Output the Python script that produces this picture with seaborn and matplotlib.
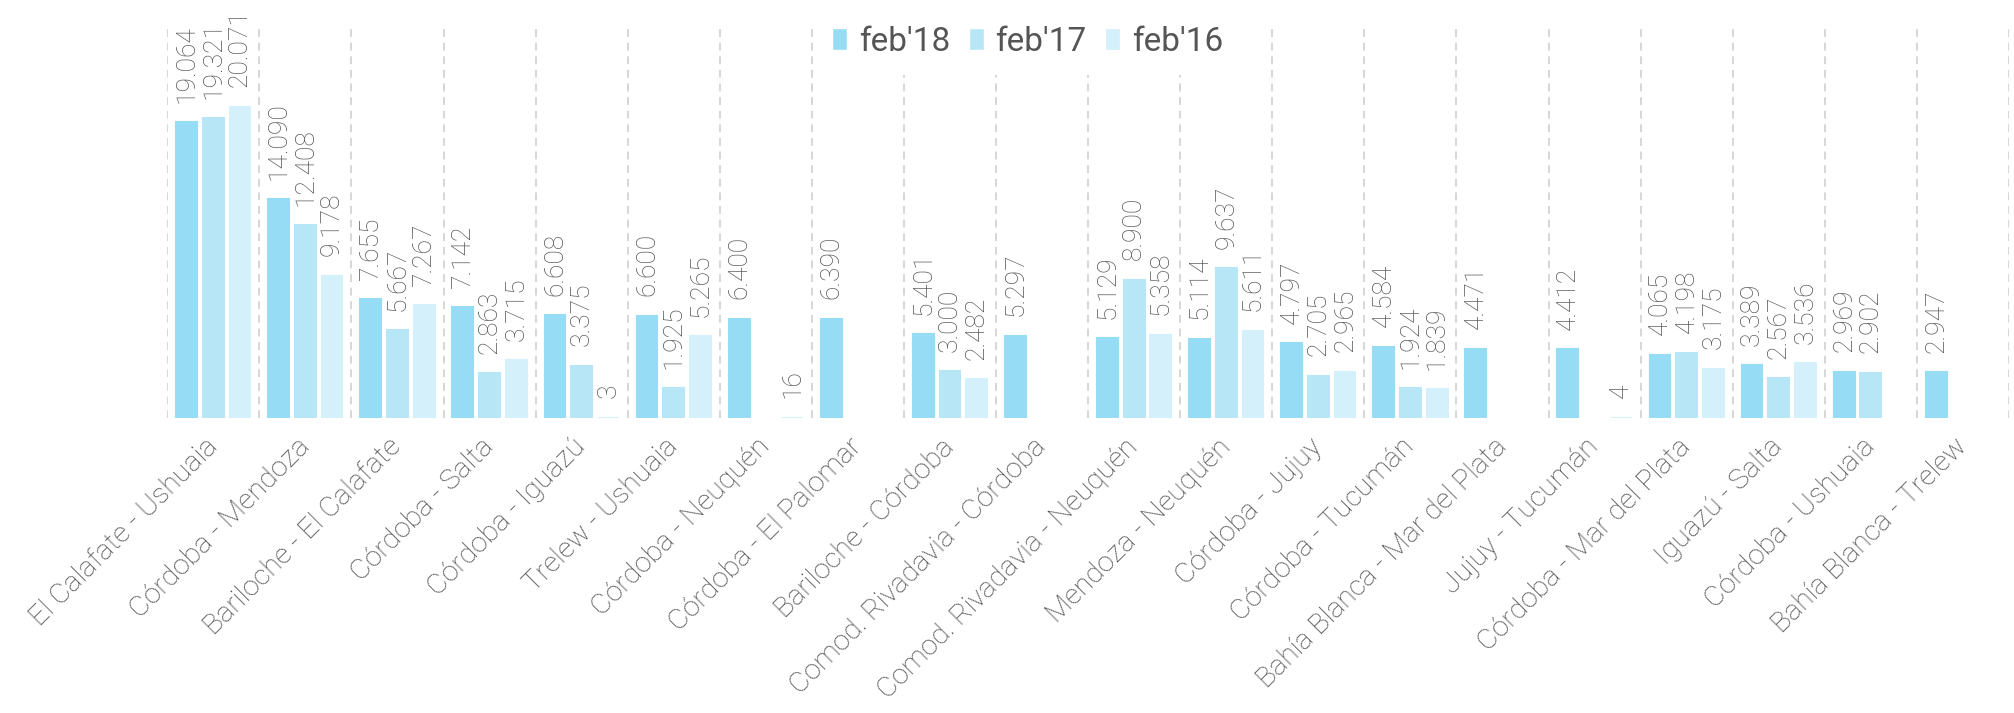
import numpy as np
import pandas as pd
import matplotlib.pyplot as plt
import seaborn as sns

rutas = [
    "El Calafate - Ushuaia", "Córdoba - Mendoza", "Bariloche - El Calafate",
    "Córdoba - Salta", "Córdoba - Iguazú", "Trelew - Ushuaia",
    "Córdoba - Neuquén", "Córdoba - El Palomar", "Bariloche - Córdoba",
    "Comod. Rivadavia - Córdoba", "Comod. Rivadavia - Neuquén",
    "Mendoza - Neuquén", "Córdoba - Jujuy", "Córdoba - Tucumán",
    "Bahía Blanca - Mar del Plata", "Jujuy - Tucumán",
    "Córdoba - Mar del Plata", "Iguazú - Salta", "Córdoba - Ushuaia",
    "Bahía Blanca - Trelew",
]
periodos = ["feb'18", "feb'17", "feb'16"]
nan = np.nan
feb18 = [19064, 14090, 7655, 7142, 6608, 6600, 6400, 6390, 5401, 5297,
         5129, 5114, 4797, 4584, 4471, 4412, 4065, 3389, 2969, 2947]
feb17 = [19321, 12408, 5667, 2863, 3375, 1925, nan, nan, 3000, nan,
         8900, 9637, 2705, 1924, nan, nan, 4198, 2567, 2902, nan]
feb16 = [20071, 9178, 7267, 3715, 3, 5265, 16, nan, 2482, nan,
         5358, 5611, 2965, 1839, nan, 4, 3175, 3536, nan, nan]
colores = ["#97dcf5", "#b7e6f7", "#d4f0fa"]

df = pd.DataFrame({"ruta": rutas, "feb'18": feb18, "feb'17": feb17, "feb'16": feb16})
df = df.melt(id_vars="ruta", var_name="periodo", value_name="pax").dropna()

sns.set_style("white")
plt.rcParams["font.family"] = ["Roboto", "DejaVu Sans"]

fig = plt.figure(figsize=(20.15, 7.13), dpi=100)
ax = fig.add_axes([0.083, 0.414, 0.914, 0.55])

sns.barplot(data=df, x="ruta", y="pax", hue="periodo", order=rutas,
            hue_order=periodos, palette=colores, width=0.87, gap=0.22,
            saturation=1, errorbar=None, ax=ax, zorder=2)

# borde del mismo color para que se vean las barras minúsculas (3, 4, 16)
for cont in ax.containers:
    for p in cont:
        p.set_edgecolor(p.get_facecolor())
        p.set_linewidth(1.5)
    ax.bar_label(cont, fmt=lambda v: f"{v:,.0f}".replace(",", "."),
                 rotation=90, padding=14, fontsize=19, color="#555555",
                 fontweight="light")

ax.set_xlim(-0.5, len(rutas) - 0.5)
ax.set_ylim(0, 25300)
ax.set_xticks(np.arange(-0.5, len(rutas), 1), minor=True)
ax.grid(which="minor", axis="x", color="#d6d6d6", ls=(0, (4, 3)), lw=1.4)
ax.tick_params(axis="x", which="both", length=0, pad=18)
ax.set_yticks([])
ax.set_xlabel("")
ax.set_ylabel("")
for s in ax.spines.values():
    s.set_visible(False)

plt.setp(ax.get_xticklabels(), rotation=45, ha="right", va="center",
         rotation_mode="anchor", fontsize=20.5, color="#4a4a4a", fontweight="light")

leg = ax.legend(loc="center", bbox_to_anchor=(0.51, 0.941), bbox_transform=fig.transFigure,
                ncol=3, frameon=True, facecolor="white", framealpha=1, edgecolor="none",
                fontsize=24, handlelength=0.45, handleheight=0.65, handletextpad=0.35,
                columnspacing=0.55, borderpad=0.5)
for t in leg.get_texts():
    t.set_color("#555555")
leg.set_zorder(5)

fig.savefig("out.png", dpi=100, facecolor="white")
